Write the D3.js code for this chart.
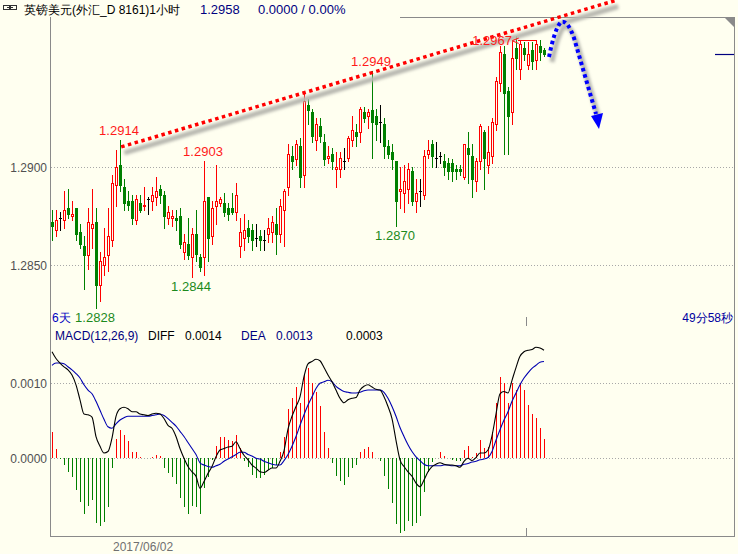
<!DOCTYPE html>
<html><head><meta charset="utf-8">
<script src="https://cdn.jsdelivr.net/npm/d3@7"></script>
<style>
html,body{margin:0;padding:0;background:#fffff0;}
svg{display:block;}
text{font-family:"Liberation Sans",Arial,sans-serif;}
</style></head>
<body>
<svg id="c" width="738" height="554"></svg>
<script>
// ---------------- data ----------------
const openP = [1.2872,1.2868,1.2874,1.2873,1.2879,1.2875,1.2879,1.2867,1.2860,1.2855,1.2869,1.2872,1.2840,1.2850,1.2855,1.2863,1.2891,1.2901,1.2890,1.2883,1.2883,1.2873,1.2882,1.2880,1.2884,1.2883,1.2885,1.2889,1.2886,1.2874,1.2874,1.2874,1.2875,1.2857,1.2861,1.2854,1.2866,1.2854,1.2854,1.2885,1.2865,1.2880,1.2882,1.2882,1.2879,1.2879,1.2877,1.2860,1.2864,1.2869,1.2868,1.2864,1.2865,1.2863,1.2866,1.2867,1.2871,1.2866,1.2878,1.2890,1.2906,1.2904,1.2911,1.2896,1.2932,1.2928,1.2914,1.2921,1.2913,1.2905,1.2907,1.2899,1.2899,1.2903,1.2905,1.2914,1.2918,1.2918,1.2928,1.2926,1.2929,1.2926,1.2923,1.2922,1.2911,1.2908,1.2903,1.2888,1.2887,1.2889,1.2898,1.2883,1.2888,1.2886,1.2907,1.2912,1.2905,1.2906,1.2903,1.2902,1.2902,1.2899,1.2899,1.2895,1.2910,1.2906,1.2893,1.2903,1.2918,1.2901,1.2906,1.2922,1.2943,1.2958,1.2939,1.2928,1.2961,1.2950,1.2961,1.2952,1.2960,1.2955,1.2962,1.2960];
const highP = [1.2878,1.2878,1.2877,1.2888,1.2889,1.2883,1.2879,1.2871,1.2865,1.2879,1.2889,1.2879,1.2857,1.2869,1.2879,1.2896,1.2909,1.2914,1.2894,1.2888,1.2886,1.2886,1.2886,1.2890,1.2885,1.2890,1.2895,1.2891,1.2888,1.2880,1.2878,1.2878,1.2879,1.2866,1.2874,1.2869,1.2878,1.2856,1.2903,1.2885,1.2883,1.2901,1.2885,1.2887,1.2882,1.2887,1.2892,1.2874,1.2876,1.2873,1.2871,1.2871,1.2868,1.2868,1.2874,1.2875,1.2879,1.2884,1.2889,1.2912,1.2911,1.2914,1.2915,1.2939,1.2935,1.2930,1.2925,1.2925,1.2917,1.2911,1.2910,1.2908,1.2908,1.2910,1.2916,1.2926,1.2922,1.2931,1.2931,1.2930,1.2949,1.2930,1.2932,1.2925,1.2914,1.2912,1.2903,1.2900,1.2901,1.2902,1.2900,1.2894,1.2894,1.2909,1.2914,1.2914,1.2913,1.2908,1.2907,1.2905,1.2904,1.2901,1.2901,1.2912,1.2918,1.2912,1.2905,1.2922,1.2919,1.2921,1.2925,1.2946,1.2962,1.2962,1.2941,1.2965,1.2967,1.2965,1.2964,1.2964,1.2964,1.2965,1.2965,1.2961];
const lowP  = [1.2863,1.2865,1.2868,1.2869,1.2874,1.2873,1.2863,1.2859,1.2838,1.2848,1.2859,1.2828,1.2832,1.2845,1.2847,1.2860,1.2880,1.2888,1.2878,1.2878,1.2871,1.2871,1.2877,1.2878,1.2876,1.2878,1.2881,1.2882,1.2869,1.2871,1.2870,1.2868,1.2859,1.2853,1.2853,1.2844,1.2852,1.2847,1.2845,1.2852,1.2861,1.2871,1.2880,1.2875,1.2873,1.2876,1.2873,1.2854,1.2858,1.2862,1.2858,1.2860,1.2858,1.2858,1.2862,1.2862,1.2856,1.2862,1.2860,1.2886,1.2899,1.2901,1.2890,1.2890,1.2922,1.2913,1.2909,1.2913,1.2901,1.2902,1.2899,1.2890,1.2895,1.2899,1.2903,1.2911,1.2911,1.2913,1.2923,1.2920,1.2905,1.2914,1.2913,1.2905,1.2905,1.2899,1.2870,1.2879,1.2877,1.2882,1.2881,1.2877,1.2880,1.2884,1.2905,1.2900,1.2900,1.2902,1.2896,1.2894,1.2893,1.2894,1.2896,1.2894,1.2892,1.2885,1.2888,1.2899,1.2889,1.2897,1.2902,1.2919,1.2939,1.2907,1.2907,1.2922,1.2950,1.2945,1.2955,1.2950,1.2950,1.2950,1.2955,1.2957];
const closeP = [1.2870,1.2873,1.2874,1.2878,1.2876,1.2876,1.2866,1.2861,1.2855,1.2872,1.2871,1.2840,1.2852,1.2854,1.2865,1.2892,1.2900,1.2891,1.2882,1.2881,1.2874,1.2884,1.2878,1.2881,1.2884,1.2886,1.2888,1.2886,1.2875,1.2877,1.2875,1.2873,1.2861,1.2862,1.2855,1.2866,1.2856,1.2849,1.2883,1.2864,1.2879,1.2883,1.2884,1.2877,1.2876,1.2877,1.2886,1.2867,1.2868,1.2865,1.2863,1.2864,1.2863,1.2863,1.2869,1.2872,1.2866,1.2880,1.2888,1.2907,1.2903,1.2912,1.2895,1.2934,1.2929,1.2916,1.2922,1.2916,1.2904,1.2906,1.2903,1.2900,1.2905,1.2903,1.2915,1.2919,1.2916,1.2930,1.2925,1.2928,1.2923,1.2922,1.2923,1.2911,1.2907,1.2904,1.2883,1.2889,1.2893,1.2899,1.2883,1.2887,1.2888,1.2906,1.2909,1.2906,1.2905,1.2906,1.2900,1.2898,1.2898,1.2898,1.2898,1.2912,1.2907,1.2894,1.2903,1.2921,1.2905,1.2908,1.2923,1.2944,1.2959,1.2938,1.2926,1.2956,1.2956,1.2963,1.2958,1.2958,1.2954,1.2963,1.2959,1.2958];

const diffV = [0.00142,0.00133,0.00127,0.00122,0.00118,0.00111,0.00098,0.00078,0.00059,0.00058,0.00055,0.00029,0.00016,0.00007,0.00009,0.00027,0.00056,0.00066,0.00068,0.00066,0.00062,0.00062,0.00059,0.00058,0.00057,0.00059,0.00060,0.00059,0.00053,0.00044,0.00040,0.00029,0.00013,0.00000,-0.00011,-0.00018,-0.00024,-0.00040,-0.00031,-0.00020,-0.00011,0.00002,0.00011,0.00013,0.00015,0.00016,0.00022,0.00013,0.00004,-0.00002,-0.00009,-0.00013,-0.00018,-0.00019,-0.00016,-0.00013,-0.00013,-0.00004,0.00010,0.00039,0.00056,0.00069,0.00082,0.00109,0.00126,0.00129,0.00132,0.00130,0.00121,0.00111,0.00102,0.00091,0.00080,0.00074,0.00078,0.00080,0.00081,0.00091,0.00096,0.00098,0.00095,0.00092,0.00091,0.00082,0.00069,0.00053,0.00024,-0.00002,-0.00011,-0.00018,-0.00024,-0.00033,-0.00038,-0.00029,-0.00018,-0.00011,-0.00008,-0.00006,-0.00008,-0.00009,-0.00009,-0.00010,-0.00012,-0.00004,0.00000,-0.00003,0.00001,0.00007,0.00007,0.00011,0.00030,0.00059,0.00086,0.00089,0.00087,0.00104,0.00121,0.00136,0.00142,0.00144,0.00145,0.00148,0.00147,0.00144];
const deaV = [0.00124,0.00127,0.00127,0.00126,0.00122,0.00118,0.00113,0.00107,0.00098,0.00091,0.00086,0.00076,0.00064,0.00052,0.00042,0.00040,0.00046,0.00051,0.00054,0.00056,0.00056,0.00056,0.00056,0.00056,0.00056,0.00057,0.00058,0.00059,0.00057,0.00053,0.00048,0.00043,0.00036,0.00029,0.00021,0.00013,0.00005,-0.00006,-0.00009,-0.00011,-0.00012,-0.00010,-0.00008,-0.00004,-0.00001,0.00002,0.00005,0.00008,0.00008,0.00005,0.00003,0.00000,-0.00001,-0.00004,-0.00006,-0.00008,-0.00009,-0.00009,-0.00003,0.00005,0.00016,0.00029,0.00044,0.00058,0.00071,0.00082,0.00093,0.00100,0.00102,0.00104,0.00102,0.00096,0.00092,0.00089,0.00088,0.00087,0.00087,0.00088,0.00090,0.00091,0.00091,0.00091,0.00091,0.00088,0.00080,0.00069,0.00056,0.00041,0.00029,0.00018,0.00009,0.00002,-0.00003,-0.00008,-0.00010,-0.00010,-0.00010,-0.00010,-0.00009,-0.00009,-0.00010,-0.00010,-0.00010,-0.00008,-0.00007,-0.00005,-0.00004,-0.00002,-0.00001,0.00001,0.00009,0.00024,0.00038,0.00051,0.00062,0.00076,0.00087,0.00098,0.00107,0.00114,0.00120,0.00124,0.00128,0.00129];
const macdV = [0.000355,0.000124,-0.00001,-0.000089,-0.000178,-0.000245,-0.000422,-0.000578,-0.000747,-0.000631,-0.000555,-0.000867,-0.000898,-0.000845,-0.000645,-0.000133,0.000253,0.000377,0.000311,0.000235,0.00008,0.000089,0.00002,0.00001,0.00001,0.00002,0.000044,0.00003,-0.000124,-0.000191,-0.000245,-0.000347,-0.000524,-0.000645,-0.000738,-0.000636,-0.000645,-0.000738,-0.0004,-0.000245,-0.00002,0.000164,0.000289,0.000289,0.000244,0.000235,0.000311,0.000133,-0.00004,-0.00011,-0.000222,-0.000258,-0.000267,-0.000222,-0.000155,-0.000133,-0.00009,0.00009,0.000289,0.000657,0.0008,0.000955,0.000733,0.001124,0.0012,0.001,0.000889,0.000698,0.000355,0.000142,-0.000058,-0.000236,-0.000298,-0.000355,-0.000244,-0.000133,-0.000089,0.000089,0.00012,0.000155,0.000089,0.00001,-0.00003,-0.000236,-0.000409,-0.0006,-0.000876,-0.000991,-0.000964,-0.000831,-0.000898,-0.000858,-0.000769,-0.000444,-0.000178,-0.000044,0.00001,0.000089,0.00003,0.00001,-0.00002,-0.00003,-0.00003,0.00011,0.000164,0.00002,0.000067,0.000244,0.000133,0.000155,0.000355,0.000733,0.001089,0.001009,0.000742,0.001009,0.000911,0.001,0.000911,0.000711,0.000591,0.000533,0.0004,0.000258];

const priceTicks = [1.2900, 1.2850];
const macdTicks = [0.0010, 0.0000];
const highMarks = [{i:18, v:1.2914},{i:39, v:1.2903},{i:81, v:1.2949}];
const lowMarks  = [{i:12, v:1.2828},{i:36, v:1.2844},{i:87, v:1.2870}];
const maxMark = {i:117, v:1.2967};
const trendLine = [{i:18.3, v:1.29104},{i:141.8, v:1.29851}];
const dayBreaks = [119.5];
const dateLabel = "2017/06/02";
const titleText = "英镑美元(外汇_D 8161)1小时";
const lastPrice = 1.2958;
const macdShown = 0.0003;

// ---------------- scales ----------------
const n = closeP.length;
const idx = d3.range(1, n + 1);
const x = d3.scaleLinear().domain([1, 124]).range([52, 544]);
const y = d3.scaleLinear().domain([1.2850, 1.2900]).range([265.3, 167.3]);
const ym = d3.scaleLinear().domain([0, 0.0010]).range([458.3, 383.3]);

const BG = "#fffff0", RED = "#ff0000", GREEN = "#008000", NAVY = "#000080";
const svg = d3.select("#c");
svg.append("rect").attr("width", 738).attr("height", 554).attr("fill", BG);

const defs = svg.append("defs");
defs.append("filter").attr("id", "sh").attr("x", "-20%").attr("y", "-50%").attr("width", "140%").attr("height", "200%")
  .append("feGaussianBlur").attr("stdDeviation", 1.6);

// ---------------- frame ----------------
const frame = svg.append("g").attr("stroke", "#8a8a8a").attr("fill", "none").attr("shape-rendering", "crispEdges");
frame.append("line").attr("x1", 50.5).attr("x2", 50.5).attr("y1", 17).attr("y2", 537);
frame.append("line").attr("x1", 50).attr("x2", 735).attr("y1", 536.5).attr("y2", 536.5);
frame.append("line").attr("x1", 734.5).attr("x2", 734.5).attr("y1", 17).attr("y2", 537);
frame.append("line").attr("x1", 400).attr("x2", 735).attr("y1", 17.5).attr("y2", 17.5);
svg.append("path").attr("d", "M725,18 L734,18 L734,27 Z").attr("fill", "#8a8a8a");

dayBreaks.forEach(d => {
  frame.append("line").attr("x1", Math.round(x(d)) + 0.5).attr("x2", Math.round(x(d)) + 0.5).attr("y1", 317).attr("y2", 326);
  frame.append("line").attr("x1", Math.round(x(d)) + 0.5).attr("x2", Math.round(x(d)) + 0.5).attr("y1", 528).attr("y2", 536);
});

// ---------------- grid + axes ----------------
const grid = svg.append("g").attr("stroke", "#a8a8a8").attr("stroke-dasharray", "1,2").attr("shape-rendering", "crispEdges");
priceTicks.forEach(t => grid.append("line").attr("x1", 51).attr("x2", 734).attr("y1", Math.round(y(t)) + 0.5).attr("y2", Math.round(y(t)) + 0.5));
macdTicks.forEach(t => grid.append("line").attr("x1", 51).attr("x2", 734).attr("y1", Math.round(ym(t)) + 0.5).attr("y2", Math.round(ym(t)) + 0.5));

const axP = svg.append("g").attr("transform", "translate(48,0)")
  .call(d3.axisLeft(y).tickValues(priceTicks).tickSize(0).tickPadding(1).tickFormat(d3.format(".4f")));
const axM = svg.append("g").attr("transform", "translate(48,0)")
  .call(d3.axisLeft(ym).tickValues(macdTicks).tickSize(0).tickPadding(1).tickFormat(d3.format(".4f")));
[axP, axM].forEach(a => {
  a.select(".domain").remove();
  a.selectAll("text").attr("font-size", 12).attr("fill", "#505050").attr("font-family", "Liberation Sans, Arial, sans-serif");
});

// ---------------- candles ----------------
const cg = svg.append("g").attr("shape-rendering", "crispEdges");
idx.forEach((k, j) => {
  const o = openP[j], h = highP[j], l = lowP[j], c = closeP[j];
  const cx = Math.round(x(k));
  const col = c > o ? RED : (c < o ? GREEN : "#000000");
  cg.append("line").attr("x1", cx + 0.5).attr("x2", cx + 0.5).attr("y1", Math.round(y(h))).attr("y2", Math.round(y(l)) + 1).attr("stroke", col);
  const top = Math.round(y(Math.max(o, c))), bot = Math.round(y(Math.min(o, c)));
  if (c > o) {
    cg.append("rect").attr("x", cx - 0.5).attr("y", top + 0.5).attr("width", 2).attr("height", Math.max(1, bot - top))
      .attr("fill", BG).attr("stroke", RED);
  } else if (c < o) {
    cg.append("rect").attr("x", cx - 1).attr("y", top).attr("width", 3).attr("height", Math.max(1, bot - top + 1)).attr("fill", GREEN);
  } else {
    cg.append("line").attr("x1", cx - 1).attr("x2", cx + 2).attr("y1", top + 0.5).attr("y2", top + 0.5).attr("stroke", "#000");
  }
});

// ---------------- trend line (red dotted with shadow) ----------------
const tx1 = x(trendLine[0].i), ty1 = y(trendLine[0].v), tx2 = x(trendLine[1].i), ty2 = y(trendLine[1].v);
svg.append("line").attr("x1", tx1 + 3).attr("y1", ty1 + 6).attr("x2", tx2 + 3).attr("y2", ty2 + 6)
  .attr("stroke", "#b8b8b0").attr("stroke-width", 5).attr("filter", "url(#sh)");
svg.append("line").attr("x1", tx1).attr("y1", ty1).attr("x2", tx2).attr("y2", ty2)
  .attr("stroke", "#ff0000").attr("stroke-width", 3.5).attr("stroke-dasharray", "3.5,3.5");

// ---------------- blue arrow ----------------
const arrowPath = "M549,57 C552,42 556,27 561,22 C566,20 570,27 574,38 L596,114";
svg.append("path").attr("d", arrowPath).attr("transform", "translate(3,5)").attr("fill", "none")
  .attr("stroke", "#b8b8b0").attr("stroke-width", 5).attr("filter", "url(#sh)");
svg.append("path").attr("d", arrowPath).attr("fill", "none").attr("stroke", "#0000ff").attr("stroke-width", 4).attr("stroke-dasharray", "3.5,3");
svg.append("path").attr("d", "M591,116 L603,113 L599,129 Z").attr("fill", "#0000ff");

// ---------------- high / low labels ----------------
const lab = svg.append("g").attr("font-size", 13).attr("text-anchor", "middle");
highMarks.forEach(m => lab.append("text").attr("x", x(m.i) - 1).attr("y", y(m.v) - 5).attr("fill", "#ff1a1a").text(m.v.toFixed(4)));
lowMarks.forEach(m => lab.append("text").attr("x", x(m.i) - 1).attr("y", y(m.v) + 14).attr("fill", "#1c8a1c").text(m.v.toFixed(4)));
lab.append("text").attr("x", x(maxMark.i) - 4).attr("y", y(maxMark.v) + 9).attr("text-anchor", "end").attr("fill", "#ff1a1a").text(maxMark.v.toFixed(4));
lab.append("text").attr("x", x(maxMark.i) - 4).attr("y", y(maxMark.v) + 9).attr("text-anchor", "start").attr("fill", "#ff1a1a").text("<");
svg.append("line").attr("x1", x(maxMark.i) + 2).attr("x2", x(122)).attr("y1", Math.round(y(maxMark.v)) + 4.5).attr("y2", Math.round(y(maxMark.v)) + 4.5)
  .attr("stroke", RED).attr("shape-rendering", "crispEdges");

// ---------------- current price marker ----------------
svg.append("line").attr("x1", 715).attr("x2", 734).attr("y1", Math.round(y(lastPrice)) + 0.5).attr("y2", Math.round(y(lastPrice)) + 0.5)
  .attr("stroke", NAVY).attr("stroke-width", 1.2);

// ---------------- MACD ----------------
const mg = svg.append("g").attr("shape-rendering", "crispEdges");
idx.forEach((k, j) => {
  const v = macdV[j];
  const cx = Math.round(x(k)) + 0.5;
  mg.append("line").attr("x1", cx).attr("x2", cx).attr("y1", ym(0)).attr("y2", ym(v)).attr("stroke", v >= 0 ? RED : GREEN);
});
const line = d3.line().x((d, j) => x(idx[j])).y(d => ym(d)).curve(d3.curveMonotoneX);
svg.append("path").attr("d", line(deaV)).attr("fill", "none").attr("stroke", "#0000b0").attr("stroke-width", 1.1);
svg.append("path").attr("d", line(diffV)).attr("fill", "none").attr("stroke", "#000000").attr("stroke-width", 1.1);

// ---------------- texts ----------------
const T = svg.append("g").attr("font-size", 12);
const ic = svg.append("g").attr("fill", "none").attr("stroke", "#303030").attr("shape-rendering", "crispEdges");
ic.append("rect").attr("x", 3.5).attr("y", 5.5).attr("width", 6).attr("height", 4);
ic.append("rect").attr("x", 10.5).attr("y", 5.5).attr("width", 6).attr("height", 4);
ic.append("line").attr("x1", 7).attr("x2", 13).attr("y1", 7.5).attr("y2", 7.5);
T.append("text").attr("x", 24).attr("y", 14).attr("font-family", "Noto Sans CJK SC, sans-serif").attr("fill", "#000").text(titleText);
T.append("text").attr("x", 200).attr("y", 14).attr("font-size", 13).attr("fill", NAVY).text(lastPrice.toFixed(4));
T.append("text").attr("x", 258).attr("y", 14).attr("font-size", 13).attr("fill", NAVY).text("0.0000 / 0.00%");

T.append("text").attr("x", 52).attr("y", 322).attr("font-family", "Noto Sans CJK SC, sans-serif").attr("fill", "#0000c0").text("6天");
T.append("text").attr("x", 733).attr("y", 322).attr("text-anchor", "end").attr("font-family", "Noto Sans CJK SC, sans-serif").attr("fill", "#0000a0").text("49分58秒");

T.append("text").attr("x", 55).attr("y", 340).attr("fill", NAVY).text("MACD(12,26,9)");
T.append("text").attr("x", 148).attr("y", 340).attr("fill", "#000").text("DIFF");
T.append("text").attr("x", 185).attr("y", 340).attr("fill", "#000").text(diffV[n - 1].toFixed(4));
T.append("text").attr("x", 241).attr("y", 340).attr("fill", NAVY).text("DEA");
T.append("text").attr("x", 276).attr("y", 340).attr("fill", NAVY).text(deaV[n - 1].toFixed(4));
T.append("text").attr("x", 346).attr("y", 340).attr("fill", "#000").text(macdShown.toFixed(4));

T.append("text").attr("x", 113).attr("y", 551).attr("fill", "#707070").text(dateLabel);
</script>
</body></html>
